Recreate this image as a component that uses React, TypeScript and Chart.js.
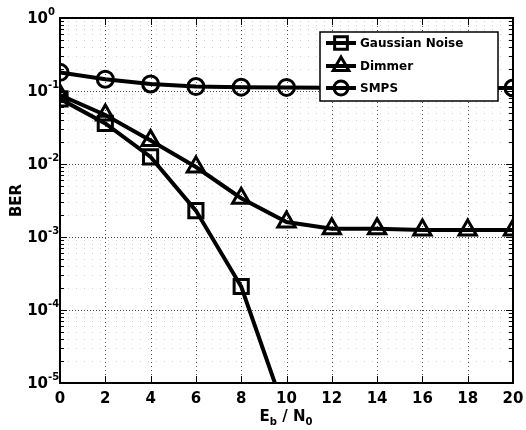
import { useEffect, useRef } from "react";
import { Chart, registerables } from "chart.js";

Chart.register(...registerables);

// ---- data ----
const snrDb = [0, 2, 4, 6, 8, 10, 12, 14, 16, 18, 20];
const gaussianBer = [0.078, 0.036, 0.0125, 0.0023, 0.00021, 0.0000035, null, null, null, null, null];
const dimmerBer = [0.088, 0.047, 0.021, 0.0091, 0.0034, 0.0016, 0.0013, 0.0013, 0.00125, 0.00125, 0.00125];
const smpsBer = [0.18, 0.145, 0.125, 0.115, 0.113, 0.112, 0.111, 0.11, 0.11, 0.11, 0.11];
const seriesNames = ["Gaussian Noise", "Dimmer", "SMPS"];
const seriesMarkers = ["rect", "triangle", "circle"];
const xTickValues = [0, 2, 4, 6, 8, 10, 12, 14, 16, 18, 20];
const yDecadeExponents = [0, -1, -2, -3, -4, -5];

const TICK_FONT = "bold 15px 'DejaVu Sans', sans-serif";
const SUP_FONT = "bold 10px 'DejaVu Sans', sans-serif";

function markerPath(ctx: CanvasRenderingContext2D, style: string, x: number, y: number, r: number) {
  ctx.beginPath();
  if (style === "rect") {
    const s = Math.SQRT1_2 * r;
    ctx.rect(x - s, y - s, 2 * s, 2 * s);
  } else if (style === "triangle") {
    let rad = 0;
    ctx.moveTo(x + Math.sin(rad) * r, y - Math.cos(rad) * r);
    rad += (2 * Math.PI) / 3;
    ctx.lineTo(x + Math.sin(rad) * r, y - Math.cos(rad) * r);
    rad += (2 * Math.PI) / 3;
    ctx.lineTo(x + Math.sin(rad) * r, y - Math.cos(rad) * r);
    ctx.closePath();
  } else {
    ctx.arc(x, y, r, 0, Math.PI * 2);
  }
}

const markerRadius: Record<string, number> = { rect: 10, triangle: 10, circle: 8 };

const axesPlugin = {
  id: "matlabAxes",
  beforeDatasetsDraw(chart: any) {
    const { ctx, chartArea: a, scales } = chart;
    const x = scales.x;
    const y = scales.y;
    ctx.save();
    ctx.lineWidth = 1;
    // minor grid
    ctx.setLineDash([1, 7]);
    ctx.strokeStyle = "rgba(0,0,0,0.18)";
    for (let d = -5; d < 0; d++) {
      for (let m = 2; m <= 9; m++) {
        const py = Math.round(y.getPixelForValue(m * Math.pow(10, d))) + 0.5;
        ctx.beginPath();
        ctx.moveTo(a.left, py);
        ctx.lineTo(a.right, py);
        ctx.stroke();
      }
    }
    // major grid
    ctx.setLineDash([1, 2]);
    ctx.strokeStyle = "rgba(0,0,0,0.7)";
    yDecadeExponents.forEach((e) => {
      const py = Math.round(y.getPixelForValue(Math.pow(10, e))) + 0.5;
      ctx.beginPath();
      ctx.moveTo(a.left, py);
      ctx.lineTo(a.right, py);
      ctx.stroke();
    });
    ctx.setLineDash([1, 3]);
    xTickValues.forEach((v) => {
      const px = Math.round(x.getPixelForValue(v)) + 0.5;
      ctx.beginPath();
      ctx.moveTo(px, a.top);
      ctx.lineTo(px, a.bottom);
      ctx.stroke();
    });
    ctx.restore();
  },
  afterDraw(chart: any) {
    const { ctx, chartArea: a, scales } = chart;
    const x = scales.x;
    const y = scales.y;
    ctx.save();
    ctx.setLineDash([]);
    ctx.strokeStyle = "#000";
    ctx.fillStyle = "#000";

    // legend box
    const lx0 = 320, ly0 = 32, lx1 = 498, ly1 = 101;
    ctx.fillStyle = "#fff";
    ctx.fillRect(lx0, ly0, lx1 - lx0, ly1 - ly0);
    ctx.lineWidth = 1.5;
    ctx.strokeRect(lx0, ly0, lx1 - lx0, ly1 - ly0);
    const rows = [43, 66, 88];
    ctx.font = "bold 12px 'DejaVu Sans', sans-serif";
    ctx.textBaseline = "middle";
    ctx.textAlign = "left";
    seriesNames.forEach((name, i) => {
      const ry = rows[i];
      ctx.lineWidth = 4;
      ctx.strokeStyle = "#000";
      ctx.beginPath();
      ctx.moveTo(326, ry);
      ctx.lineTo(356, ry);
      ctx.stroke();
      ctx.lineWidth = 3;
      markerPath(ctx, seriesMarkers[i], 341, ry, markerRadius[seriesMarkers[i]] - 1);
      ctx.stroke();
      ctx.fillStyle = "#000";
      ctx.fillText(name, 360, ry + 1);
    });

    // tick marks
    ctx.lineWidth = 1;
    ctx.strokeStyle = "#000";
    for (let d = -5; d <= 0; d++) {
      for (let m = 1; m <= 9; m++) {
        const v = m * Math.pow(10, d);
        if (v > 1) continue;
        const py = Math.round(y.getPixelForValue(v)) + 0.5;
        const len = m === 1 ? 7 : 4;
        ctx.beginPath();
        ctx.moveTo(a.left, py);
        ctx.lineTo(a.left + len, py);
        ctx.moveTo(a.right, py);
        ctx.lineTo(a.right - len, py);
        ctx.stroke();
      }
    }
    xTickValues.forEach((v) => {
      const px = Math.round(x.getPixelForValue(v)) + 0.5;
      ctx.beginPath();
      ctx.moveTo(px, a.bottom);
      ctx.lineTo(px, a.bottom - 7);
      ctx.moveTo(px, a.top);
      ctx.lineTo(px, a.top + 7);
      ctx.stroke();
    });

    // frame
    ctx.lineWidth = 2;
    ctx.strokeRect(a.left, a.top, a.right - a.left, a.bottom - a.top);

    // y tick labels
    ctx.fillStyle = "#000";
    yDecadeExponents.forEach((e) => {
      const py = y.getPixelForValue(Math.pow(10, e));
      ctx.font = TICK_FONT;
      ctx.textAlign = "right";
      ctx.textBaseline = "middle";
      ctx.fillText("10", a.left - 12, py + 1);
      ctx.font = SUP_FONT;
      ctx.textAlign = "left";
      ctx.textBaseline = "alphabetic";
      ctx.fillText(e === 0 ? "0" : "-" + Math.abs(e), a.left - 12, py - 3);
    });

    // x tick labels
    ctx.font = TICK_FONT;
    ctx.textAlign = "center";
    ctx.textBaseline = "alphabetic";
    xTickValues.forEach((v) => {
      ctx.fillText(String(v), x.getPixelForValue(v), a.bottom + 20);
    });

    // x title: E_b / N_0
    const parts: [string, boolean][] = [["E", false], ["b", true], [" / N", false], ["0", true]];
    const mainFont = "bold 15px 'DejaVu Sans', sans-serif";
    const subFont = "bold 10px 'DejaVu Sans', sans-serif";
    let total = 0;
    parts.forEach(([t, sub]) => {
      ctx.font = sub ? subFont : mainFont;
      total += ctx.measureText(t).width;
    });
    let cx = 286 - total / 2;
    const by = a.bottom + 38;
    ctx.textAlign = "left";
    parts.forEach(([t, sub]) => {
      ctx.font = sub ? subFont : mainFont;
      ctx.fillText(t, cx, sub ? by + 4 : by);
      cx += ctx.measureText(t).width;
    });

    // y title
    ctx.save();
    ctx.translate(17, (a.top + a.bottom) / 2);
    ctx.rotate(-Math.PI / 2);
    ctx.font = "bold 15px 'DejaVu Sans', sans-serif";
    ctx.textAlign = "center";
    ctx.textBaseline = "middle";
    ctx.fillText("BER", 0, 0);
    ctx.restore();

    ctx.restore();
  },
};

export default function App() {
  const ref = useRef<HTMLCanvasElement>(null);
  useEffect(() => {
    if (!ref.current) return;
    const series = [gaussianBer, dimmerBer, smpsBer];
    const chart = new Chart(ref.current, {
      type: "line",
      data: {
        datasets: series.map((vals, i) => ({
          label: seriesNames[i],
          data: snrDb.map((xv, j) => ({ x: xv, y: vals[j] as any })),
          borderColor: "#000",
          borderWidth: 4,
          pointStyle: seriesMarkers[i] as any,
          pointRadius: markerRadius[seriesMarkers[i]],
          pointBorderWidth: 3,
          pointBorderColor: "#000",
          pointBackgroundColor: "rgba(0,0,0,0)",
          spanGaps: false,
          tension: 0,
        })),
      },
      options: {
        animation: false,
        responsive: true,
        maintainAspectRatio: false,
        layout: { padding: { left: 60, top: 18, right: 11, bottom: 47 } },
        plugins: { legend: { display: false }, tooltip: { enabled: false } },
        scales: {
          x: { type: "linear", min: 0, max: 20, display: false },
          y: { type: "logarithmic", min: 1e-5, max: 1, display: false },
        },
      },
      plugins: [axesPlugin],
    });
    return () => chart.destroy();
  }, []);
  return (
    <div style={{ position: "fixed", left: 0, top: 0, width: 526, height: 430, background: "#fff" }}>
      <canvas ref={ref} />
    </div>
  );
}
